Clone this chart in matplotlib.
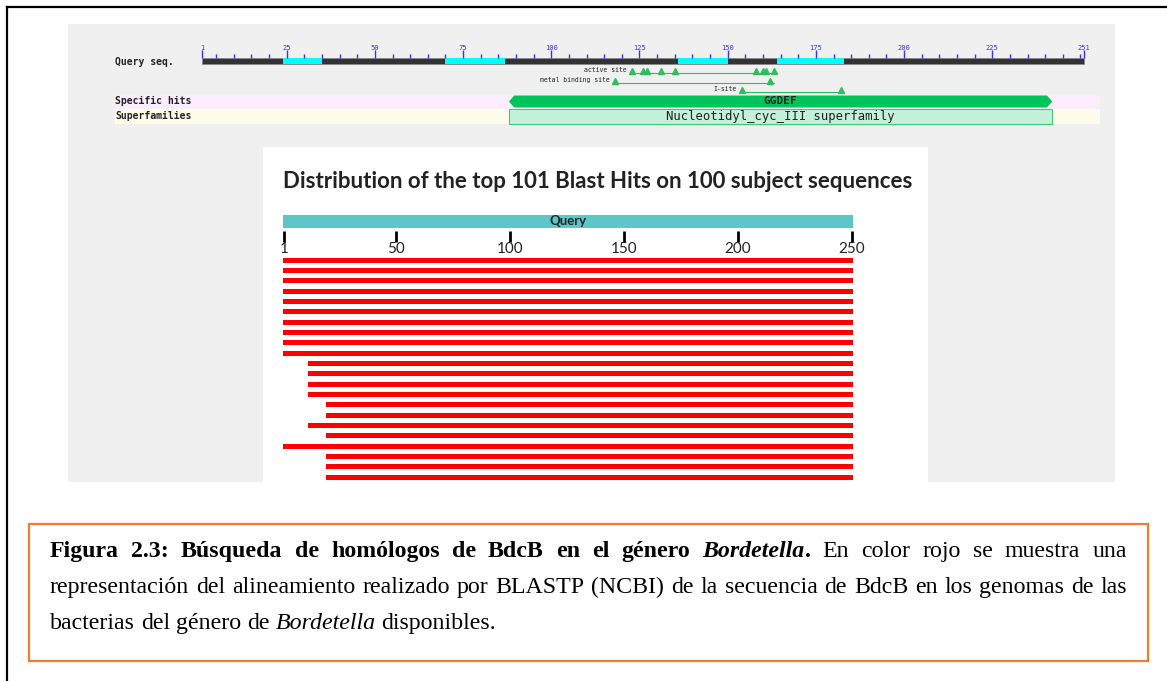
import matplotlib
matplotlib.use("Agg")
import matplotlib.pyplot as plt
from matplotlib.patches import Rectangle, Polygon

W, H = 1167, 681

# --- data ---
query_len = 251
ruler_major = [1, 25, 50, 75, 100, 125, 150, 175, 200, 225, 251]
ruler_minor = [r for r in range(5, 251, 5) if r not in ruler_major]
cyan_segments = [(24, 35), (70, 87), (136, 150), (164, 183)]
ggdef_span = (88, 242)
superfamily_span = (88, 242)
active_site = [123, 126, 127, 131, 135, 158, 160, 161, 163]
metal_site = [118, 162]
i_site = [154, 182]

hit_starts = [1] * 10 + [12] * 4 + [20, 20, 12, 20, 1, 20, 20, 20]
hit_ends = [250] * 22
blast_ticks = [1, 50, 100, 150, 200, 250]

fig = plt.figure(figsize=(W / 100, H / 100), dpi=100)
fig.patch.set_facecolor("white")


def px_axes(x0, y0, x1, y1, z=1):
    a = fig.add_axes([x0 / W, 1 - y1 / H, (x1 - x0) / W, (y1 - y0) / H], zorder=z)
    a.set_axis_off()
    a.patch.set_alpha(0)
    return a


# background in pixel coordinates
bg = px_axes(0, 0, W, H, z=0)
bg.set_xlim(0, W)
bg.set_ylim(H, 0)
bg.plot([7, 7], [H, 7], color="black", lw=1.6)
bg.plot([7, W], [7, 7], color="black", lw=1.6)
bg.add_patch(Rectangle((68, 24), 1115 - 68, 482 - 24, color="#f0f0f0", lw=0))
bg.add_patch(Rectangle((263, 147), 928 - 263, 482 - 147, color="white", lw=0))
bg.add_patch(Rectangle((115, 95), 1100 - 115, 14, color="#fcedfc", lw=0))
bg.add_patch(Rectangle((115, 109), 1100 - 115, 15, color="#fdfdea", lw=0))

mono = dict(family="DejaVu Sans Mono", color="#222222")
bg.text(115, 62, "Query seq.", fontsize=7, fontweight="bold", va="center", **mono)
bg.text(115, 101, "Specific hits", fontsize=7, fontweight="bold", va="center", **mono)
bg.text(115, 116, "Superfamilies", fontsize=7, fontweight="bold", va="center", **mono)

# --- domain graphic ---
top = px_axes(68, 24, 1115, 147)
scale = 3.528
top.set_xlim(1 + (68 - 202) / scale, 1 + (1115 - 202) / scale)
top.set_ylim(147, 24)

top.add_patch(Rectangle((1, 58), query_len - 1, 6, facecolor="#333333",
                        edgecolor="#888888", lw=0.5))
for s, e in cyan_segments:
    top.add_patch(Rectangle((s, 58), e - s, 6, color="#00ffff", lw=0))
top.vlines(ruler_major, 50, 58, color="#3333ff", lw=1)
top.vlines(ruler_minor, 54, 58, color="#3333ff", lw=1)
for r in ruler_major:
    top.text(r, 48, str(r), fontsize=5, color="#3333ff", ha="center",
             va="center", family="DejaVu Sans Mono")

green = "#2dbf5f"
sites = [("active site", active_site, 73), ("metal binding site", metal_site, 83),
         ("I-site", i_site, 92)]
for name, pos, y in sites:
    top.plot([min(pos), max(pos) + 1], [y, y], color=green, lw=0.8)
    top.plot(pos, [y - 2.5] * len(pos), ls="", marker="^", ms=4.5, color=green,
             mec=green)
    top.text(min(pos) - 1.5, y - 3, name, fontsize=4.7, ha="right", va="center",
             family="DejaVu Sans Mono", color="#222222")

s, e = ggdef_span
top.add_patch(Polygon([(s + 1.5, 95.5), (e - 1.5, 95.5), (e, 101.5), (e - 1.5, 107.5),
                       (s + 1.5, 107.5), (s, 101.5)], closed=True, color="#00c45a", lw=0))
top.text((s + e) / 2, 101.5, "GGDEF", fontsize=8, fontweight="bold", ha="center",
         va="center", **mono)
s, e = superfamily_span
top.add_patch(Rectangle((s, 109), e - s, 15, facecolor="#c3f1d9", edgecolor="#3ccc78",
                        lw=0.8))
top.text((s + e) / 2, 116.5, "Nucleotidyl_cyc_III superfamily", fontsize=8.8,
         ha="center", va="center", **mono)

# --- BLAST hits panel ---
bg.text(283, 181, "Distribution of the top 101 Blast Hits on 100 subject sequences",
        fontsize=16, fontweight="bold", family="Lato", color="#222222",
        ha="left", va="center")

blast = px_axes(263, 147, 928, 482)
bscale = 2.281
blast.set_xlim(1 + (263 - 284) / bscale, 1 + (928 - 284) / bscale)
blast.set_ylim(482, 147)

blast.add_patch(Rectangle((0.5, 215), 250, 13, color="#5bc7c7", lw=0))
blast.text(125.5, 221, "Query", fontsize=9.5, fontweight="bold", family="Lato",
           color="#222222", ha="center", va="center")
blast.vlines(blast_ticks, 231, 242, color="black", lw=2)
for t in blast_ticks:
    blast.text(t, 249, str(t), fontsize=11, family="Lato", color="#222222",
               ha="center", va="center")

row0, row_step = 260.3, 10.33
for i, (s, e) in enumerate(zip(hit_starts, hit_ends)):
    blast.barh(row0 + i * row_step, e - s + 1, left=s - 0.5, height=5,
               color="#ff0000", lw=0)

# --- caption ---
bg.add_patch(Rectangle((29, 524), 1148 - 29, 661 - 524, fill=False,
                       edgecolor="#ed7d31", lw=1.6))

serif = dict(family="Liberation Serif", fontsize=17.2, color="black")
renderer = fig.canvas.get_renderer()


def text_w(s, weight, style):
    t = bg.text(0, 0, s, fontweight=weight, fontstyle=style, **serif)
    w = t.get_window_extent(renderer=renderer).width
    t.remove()
    return w


def words(s, weight="normal", style="normal"):
    return [[(w, weight, style)] for w in s.split()]


def draw_line(ws, y, x0=50, x1=1127, justify=True):
    widths = [[text_w(t, wt, st) for t, wt, st in word] for word in ws]
    total = sum(sum(w) for w in widths)
    gap = (x1 - x0 - total) / (len(ws) - 1) if justify else 0.25 * 17.2 * 100 / 72
    x = x0
    for word, wd in zip(ws, widths):
        for (t, wt, st), w in zip(word, wd):
            bg.text(x, y, t, ha="left", va="baseline", fontweight=wt, fontstyle=st, **serif)
            x += w
        x += gap


line1 = (words("Figura 2.3: Búsqueda de homólogos de BdcB en el género", "bold")
         + [[("Bordetella", "bold", "italic"), (".", "bold", "normal")]]
         + words("En color rojo se muestra una"))
line2 = words("representación del alineamiento realizado por BLASTP (NCBI) de la "
              "secuencia de BdcB en los genomas de las")
line3 = (words("bacterias del género de") + [[("Bordetella", "normal", "italic")]]
         + words("disponibles."))

draw_line(line1, 557)
draw_line(line2, 593)
draw_line(line3, 629, justify=False)

fig.savefig("out.png", dpi=100)
